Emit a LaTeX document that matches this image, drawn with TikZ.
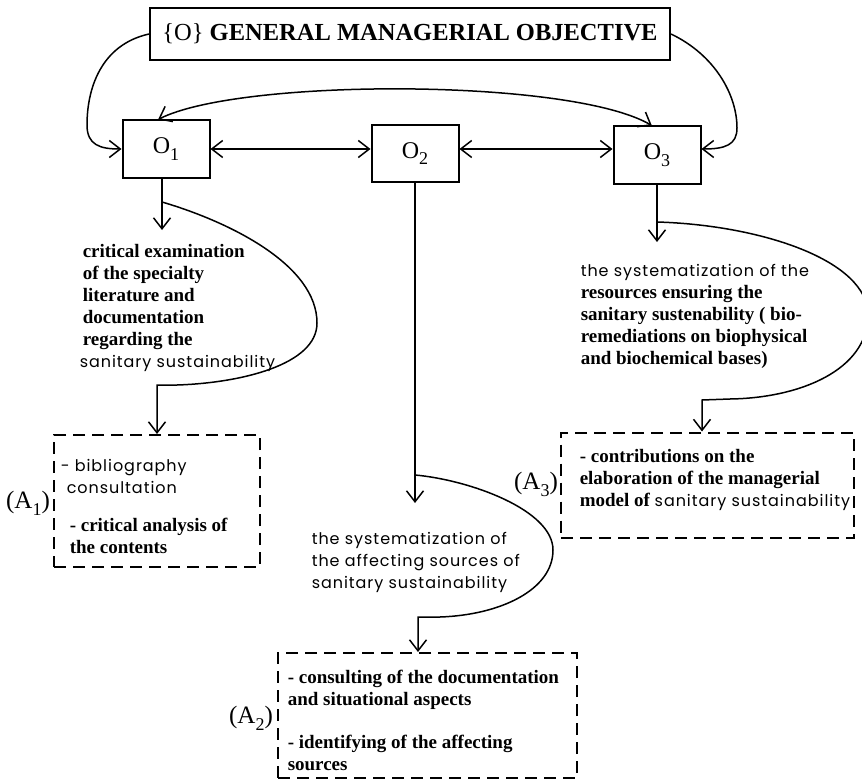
\documentclass[tikz,border=0pt]{standalone}
\usepackage{fontspec}
\setmainfont{Liberation Serif}
\newfontfamily\gothic[LetterSpace=6]{Poppins}
\usetikzlibrary{arrows.meta}
\newcommand{\lowsub}[1]{\raisebox{-0.28em}{\fontsize{18}{18}\selectfont #1}}
\newcommand{\gsans}{\gothic\mdseries\fontsize{16}{22}\selectfont}
\begin{document}
\begin{tikzpicture}[x=1pt,y=-1pt,
  line width=1.5pt,
  >={Straight Barb[length=11pt,width=17pt,line width=1.5pt]},
  obox/.style={draw, line width=2pt, minimum width=87pt, minimum height=57pt, inner sep=0pt, font=\fontsize{24}{28}\selectfont},
  abox/.style={draw, line width=2pt, dash pattern=on 12pt off 7pt, inner sep=0pt},
  btext/.style={anchor=base west, inner sep=0pt, align=left, font=\bfseries\fontsize{19}{22}\selectfont},
  stext/.style={anchor=base west, inner sep=0pt, align=left, font=\gsans},
  lab/.style={inner sep=0pt, font=\fontsize{25}{28}\selectfont},
  conn/.style={->, line width=1.5pt},
  both/.style={<->, line width=1.5pt}
]
\useasboundingbox (0,0) rectangle (862,781);

% title
\node[draw, line width=2pt, minimum width=520pt, minimum height=52pt, inner sep=0pt,
      font=\fontsize{24.5}{28}\selectfont] (T) at (410,34) {\{O\} \textbf{GENERAL MANAGERIAL OBJECTIVE}};

% objective boxes
\node[obox] (O1) at (166,149) {O\lowsub{1}};
\node[obox] (O2) at (415,153.5) {O\lowsub{2}};
\node[obox] (O3) at (657,155) {O\lowsub{3}};

% activity boxes
\node[abox, minimum width=206pt, minimum height=132pt] (A1) at (157,501) {};
\node[abox, minimum width=299pt, minimum height=125pt] (A2) at (427.5,715.5) {};
\node[abox, minimum width=293pt, minimum height=105pt] (A3) at (707.5,485) {};

% labels
\node[lab] (L1) at (28,503) {(A\lowsub{1})};
\node[lab] (L2) at (251,718) {(A\lowsub{2})};
\node[lab] (L3) at (536,484) {(A\lowsub{3})};

% texts (base = baseline of the last line)
\node[btext] (t1) at (82,367) {critical examination\\of the specialty\\literature and\\documentation\\regarding the\\\hspace*{-3pt}{\gsans sanitary sustainability}};
\node[stext] (t2) at (311,588) {the systematization of\\the affecting sources of\\sanitary sustainability};
\node[btext] (t3) at (580,364) {{\gsans the systematization of the}\\resources ensuring the\\sanitary sustenability ( bio-\\remediations on biophysical\\and biochemical bases)};

\node[stext] (a1a) at (60,493) {- bibliography\\\hspace*{6pt}consultation};
\node[btext] (a1b) at (69,553) {- critical analysis of\\the contents};
\node[btext] (a2a) at (287,705) {- consulting of the documentation\\and situational aspects};
\node[btext] (a2b) at (287,770) {- identifying of the affecting\\sources};
\node[btext] (a3) at (579,506) {- contributions on the\\elaboration of the managerial\\model of {\gsans sanitary sustainability}};

% coordinates
\coordinate (v1) at (162,0);
\coordinate (e1) at (162,230);
\coordinate (s1) at (162,202);
\coordinate (c1) at (157,385);
\coordinate (e2) at (415,503);
\coordinate (s2) at (415,475);
\coordinate (c2) at (418,617);
\coordinate (e3) at (657,242);
\coordinate (s3) at (657,222);
\coordinate (c3) at (702,400);

% top connections
\draw[conn] (T.west) .. controls (100,45) and (87,90) .. (87,125) .. controls (87,145) and (100,149) .. (O1.west);
\draw[conn] (T.east) .. controls (715,55) and (737,95) .. (737,128) .. controls (737,145) and (725,149) .. (O1.east -| O3.east);
\draw[both] (O3.100) .. controls (570,78) and (240,78) .. (O1.105);
\draw[both] (O1.east) -- (O1.east -| O2.west);
\draw[both] (O2.east |- O1.east) -- (O1.east -| O3.west);

% O1 branch
\draw[conn] (v1 |- O1.south) -- (e1);
\draw[conn] (s1) .. controls (230,222) and (317,265) .. (317,323) .. controls (317,365) and (240,383) .. (177,385) -- (c1) -- (c1 |- A1.north);

% O2 branch
\draw[conn] (O2.south) -- (e2);
\draw[conn] (s2) .. controls (470,480) and (553,510) .. (553,550) .. controls (553,590) and (500,615) .. (440,617) -- (c2) -- (c2 |- A2.north);

% O3 branch
\draw[conn] (O3.south) -- (e3);
\draw[conn] (s3) .. controls (760,225) and (868,260) .. (868,315) .. controls (868,370) and (800,398) .. (730,399) -- (c3) -- (c3 |- A3.north);
\end{tikzpicture}
\end{document}
